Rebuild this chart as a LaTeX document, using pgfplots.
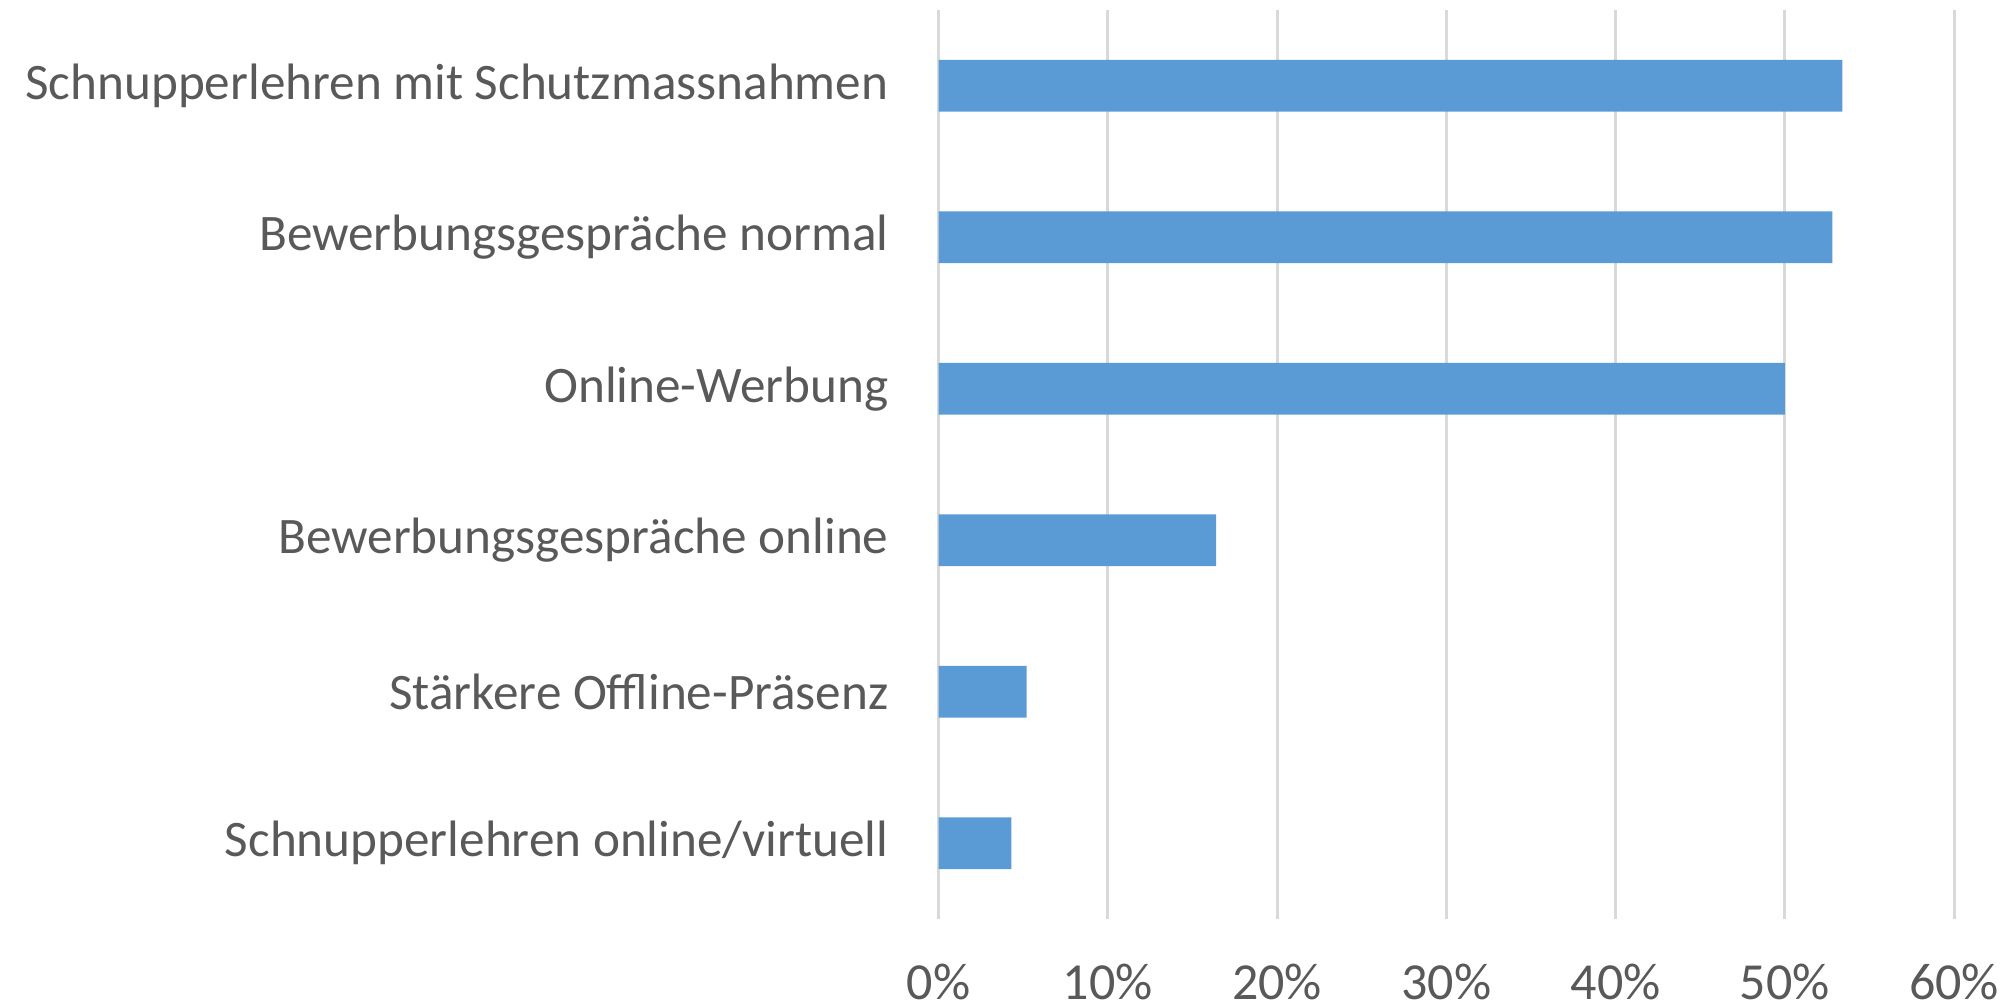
\documentclass[border=0pt]{standalone}
\usepackage{fontspec}
\setmainfont{Carlito}
\usepackage{pgfplots}
\pgfplotsset{compat=1.18}
\definecolor{barblue}{HTML}{5B9BD5}
\definecolor{gridgray}{HTML}{D9D9D9}
\definecolor{textgray}{HTML}{595959}
\begin{document}
\begin{tikzpicture}
\path[use as bounding box] (0,0) rectangle (504pt,252pt);
\begin{axis}[
  at={(234.65pt,22.25pt)}, anchor=south west,
  scale only axis,
  width=253.9pt, height=227.25pt,
  xbar, bar width=12.9pt,
  xmin=0, xmax=60,
  ymin=-0.5, ymax=5.5,
  axis line style={draw=none},
  xtick={0,10,20,30,40,50,60},
  xticklabels={0\%,10\%,20\%,30\%,40\%,50\%,60\%},
  ytick={0,1,2,3,4,5},
  yticklabels={Schnupperlehren online/virtuell,Stärkere Offline-Präsenz,Bewerbungsgespräche online,Online-Werbung,Bewerbungsgespräche normal,Schnupperlehren mit Schutzmassnahmen},
  major tick length=0pt,
  xmajorgrids, grid style={gridgray, line width=0.75pt},
  ticklabel style={font=\fontsize{12.8}{15}\selectfont, text=textgray},
  yticklabel style={xshift=-9pt, anchor=east},
  xticklabel style={inner ysep=0pt, yshift=-11pt, font=\fontsize{13}{15}\selectfont},
]
\addplot[fill=barblue, draw=none] coordinates {(4.3,0) (5.2,1) (16.4,2) (50.0,3) (52.8,4) (53.4,5)};
\end{axis}
\end{tikzpicture}
\end{document}
